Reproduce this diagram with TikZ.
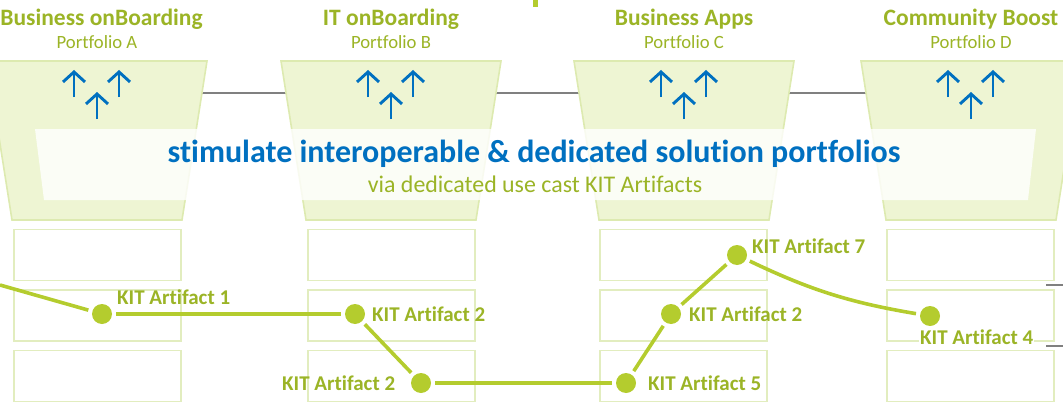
\documentclass[tikz,border=0pt]{standalone}
\usepackage{fontspec}
\setmainfont{Carlito}[Ligatures=NoCommon]
\usetikzlibrary{arrows.meta}
\definecolor{tgreen}{HTML}{9BB426}
\definecolor{dgreen}{HTML}{B4CC2E}
\definecolor{ffill}{HTML}{EEF5D3}
\definecolor{fborder}{HTML}{DDEAB0}
\definecolor{bborder}{HTML}{E2EDBF}
\definecolor{kblue}{HTML}{0070C0}
\definecolor{lgray}{HTML}{808080}
\tikzset{
  funnel/.style={fill=ffill, draw=fborder, line width=1.6pt},
  kbox/.style={draw=bborder, line width=1.4pt, minimum width=167pt, minimum height=51pt, inner sep=0pt},
  kdot/.style={circle, fill=dgreen, minimum size=20pt, inner sep=0pt},
  conn/.style={draw=dgreen, line width=3.6pt, shorten <=4pt, shorten >=4pt},
  klabel/.style={text=tgreen, font=\bfseries\fontsize{21}{23}\selectfont, inner sep=0pt},
  ttitle/.style={text=tgreen, font=\bfseries\fontsize{23.5}{26}\selectfont, inner sep=0pt},
  tsub/.style={text=tgreen, font=\fontsize{18.7}{21}\selectfont, inner sep=0pt},
  uparrow/.style={draw=kblue, line width=2.9pt, -{Straight Barb[length=10pt,width=22pt]}},
  grayline/.style={draw=lgray, line width=2pt}
}
\begin{document}
\begin{tikzpicture}[x=1pt,y=-1pt]
\useasboundingbox (0,0) rectangle (1063,404);
% gray line behind funnels
\coordinate (gl) at (0,93);
\coordinate (gr) at (1063,93);
\draw[grayline] (gl) -- (gr);
% green tick
\fill[dgreen] (533,0) rectangle (538,7);
% funnels, titles, arrows
\foreach \c/\n/\tc/\t in {97/A/101.5/Business onBoarding,391/B/391/IT onBoarding,684/C/684/Business Apps,971/D/971/Community Boost}{
  \path[funnel] (\c-110,61) -- (\c+110,61) -- (\c+85,220) -- (\c-85,220) -- cycle;
  \node[ttitle] (title\n) at (\tc,19) {\t};
  \node[tsub] (port\n) at (\c,42) {Portfolio \n};
  \coordinate (a1s\n) at (\c-23,97); \coordinate (a1e\n) at (\c-23,70);
  \coordinate (a2s\n) at (\c,119);   \coordinate (a2e\n) at (\c,92);
  \coordinate (a3s\n) at (\c+22,97); \coordinate (a3e\n) at (\c+22,70);
  \draw[uparrow] (a1s\n) -- (a1e\n);
  \draw[uparrow] (a2s\n) -- (a2e\n);
  \draw[uparrow] (a3s\n) -- (a3e\n);
}
% white band
\fill[white, opacity=0.8] (35,129) -- (1036,129) -- (1028,200) -- (44,200) -- cycle;
\node[text=kblue, font=\bfseries\fontsize{32}{34}\selectfont, inner sep=0pt] (main) at (534,154) {stimulate interoperable \& dedicated solution portfolios};
\node[text=tgreen, font=\fontsize{23.9}{26}\selectfont, inner sep=0pt] (sub) at (535,184) {via dedicated use cast KIT Artifacts};
% boxes
\foreach \c/\n in {97.5/A,391.5/B,683.5/C,970.5/D}{
  \node[kbox] (box\n1) at (\c,255) {};
  \node[kbox] (box\n2) at (\c,315.5) {};
  \node[kbox] (box\n3) at (\c,376) {};
}
% right edge gray lines
\coordinate (r1a) at (1046,285); \coordinate (r1b) at (1063,285);
\coordinate (r2a) at (1046,346); \coordinate (r2b) at (1063,346);
\draw[draw=lgray, line width=1.5pt] (r1a) -- (r1b);
\draw[draw=lgray, line width=1.5pt] (r2a) -- (r2b);
% dots
\node[kdot] (d1) at (102,314) {};
\node[kdot] (d2) at (355,314) {};
\node[kdot] (d3) at (421,383) {};
\node[kdot] (d4) at (626,383) {};
\node[kdot] (d5) at (671,314) {};
\node[kdot] (d6) at (737,255) {};
\node[kdot] (d7) at (930,316) {};
\coordinate (lin) at (0,285);
% connectors
\draw[conn, shorten <=0pt] (lin) -- (d1);
\draw[conn] (d1) -- (d2);
\draw[conn] (d2) -- (d3);
\draw[conn] (d3) -- (d4);
\draw[conn] (d4) -- (d5);
\draw[conn] (d5) -- (d6);
\draw[conn] (d6) to[bend right=8] (d7);
% labels
\node[klabel, anchor=west] (l1) at (117,297) {KIT Artifact 1};
\node[klabel, anchor=west] (l2) at (372,314) {KIT Artifact 2};
\node[klabel, anchor=west] (l3) at (282,383) {KIT Artifact 2};
\node[klabel, anchor=west] (l4) at (648,383) {KIT Artifact 5};
\node[klabel, anchor=west] (l5) at (689,314) {KIT Artifact 2};
\node[klabel, anchor=west] (l6) at (752,246) {KIT Artifact 7};
\node[klabel, anchor=west, fill=white, inner sep=1pt] (l7) at (919,337) {KIT Artifact 4};
\end{tikzpicture}
\end{document}
